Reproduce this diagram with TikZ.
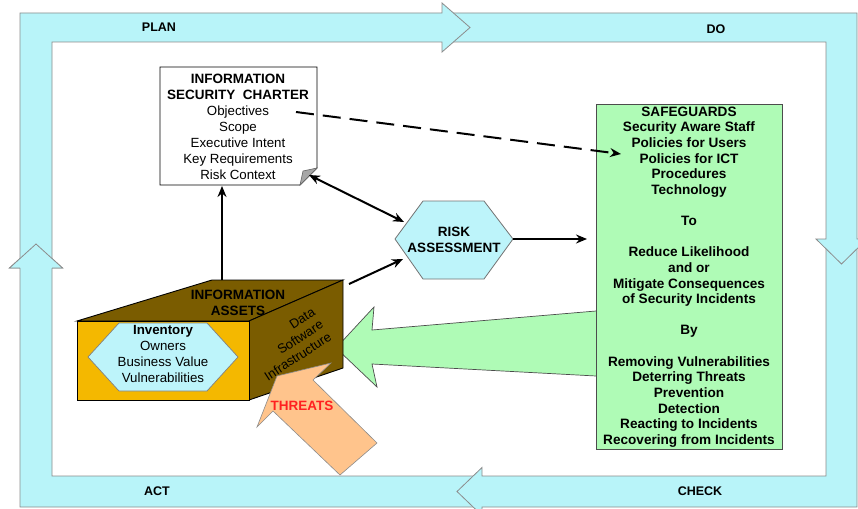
\documentclass[tikz,border=0pt]{standalone}
\usepackage{fontspec}
\setmainfont{Liberation Sans}
\usetikzlibrary{arrows.meta}
\definecolor{band}{HTML}{B8F4F9}
\definecolor{bandline}{HTML}{8C8C8C}
\definecolor{sgreen}{HTML}{AFFBB6}
\definecolor{gold}{HTML}{F4B800}
\definecolor{olive}{HTML}{7A5C00}
\definecolor{peach}{HTML}{FFC48C}
\definecolor{hexcyan}{HTML}{BDF4FA}
\definecolor{threatred}{HTML}{FF2020}
\begin{document}
\begin{tikzpicture}[x=1pt,y=-1pt,
  bandfill/.style={fill=band},
  bandedge/.style={draw=bandline,line width=0.8pt,line join=miter},
  lbl/.style={font=\fontsize{12.5}{14}\selectfont\bfseries,inner sep=0pt},
  txt/.style={align=center,inner sep=0pt},
  conn/.style={line width=2pt,-{Stealth[length=11pt,width=9pt]}},
  shapeedge/.style={draw=black,line width=0.9pt,line join=miter},
]
\useasboundingbox (0,0) rectangle (858,508);
\clip (0,0) rectangle (858,508);
\fill[white] (0,0) rectangle (858,508);

% ---- frame arrows ----
% ACT
\fill[bandfill] (482,476) -- (52,476) -- (52,268) -- (62.5,268) -- (36,244) -- (9.5,268) -- (20,268) -- (20,507) -- (482,507) -- cycle;
\draw[bandedge] (482,476) -- (52,476) -- (52,268) -- (62.5,268) -- (36,244) -- (9.5,268) -- (20,268) -- (20,507) -- (482,507);
% CHECK
\fill[bandfill] (826,239) -- (826,476) -- (482,476) -- (482,467.5) -- (457,491.5) -- (482,515.5) -- (482,507) -- (857,507) -- (857,239) -- cycle;
\draw[bandedge] (826,239) -- (826,476) -- (482,476) -- (482,467.5) -- (457,491.5) -- (482,515.5) -- (482,507) -- (857,507) -- (857,239);
% DO
\fill[bandfill] (442,13) -- (857,13) -- (857,239) -- (867,239) -- (841.5,264) -- (816,239) -- (826,239) -- (826,42) -- (442,42) -- cycle;
\draw[bandedge] (442,13) -- (857,13) -- (857,239) -- (867,239) -- (841.5,264) -- (816,239) -- (826,239) -- (826,42) -- (442,42);
% PLAN
\fill[bandfill] (20,268) -- (20,13) -- (442,13) -- (442,3) -- (470,27.5) -- (442,52) -- (442,42) -- (52,42) -- (52,268) -- cycle;
\draw[bandedge] (20,268) -- (20,13) -- (442,13) -- (442,3) -- (470,27.5) -- (442,52) -- (442,42) -- (52,42) -- (52,268);
% ACT head again on top
\fill[bandfill] (9.5,268) -- (36,244) -- (62.5,268) -- cycle;
\draw[bandedge] (20,268) -- (9.5,268) -- (36,244) -- (62.5,268) -- (52,268);

\node[lbl] (plan) at (159,27) {PLAN};
\node[lbl] (do) at (716,29) {DO};
\node[lbl] (check) at (700,491) {CHECK};
\node[lbl] (act) at (157,491) {ACT};

% ---- information security charter ----
\draw[shapeedge,fill=white] (160,67) -- (317,67) -- (317,168) -- (300,185) -- (160,185) -- cycle;
\draw[draw=black!60,fill=black!35,line width=0.6pt] (300,185) -- (317,168) -- (303,171) -- cycle;
\node[txt,font=\fontsize{13.3}{16}\selectfont] (charter) at (238,127)
  {{\fontsize{13.5}{16}\selectfont\bfseries INFORMATION}\\
   {\fontsize{13.5}{16}\selectfont\bfseries SECURITY\ \ CHARTER}\\
   Objectives\\ Scope\\ Executive Intent\\ Key Requirements\\ Risk Context};

% ---- safeguards ----
\fill[sgreen] (336,348) -- (374,307) -- (372,330) -- (596,311) -- (596,376) -- (372,364) -- (377,387) -- cycle;
\draw[draw=black!70,line width=0.7pt] (596,311) -- (372,330) -- (374,307) -- (336,348) -- (377,387) -- (372,364) -- (596,376);
\draw[draw=black!70,fill=sgreen,line width=0.8pt] (596,104) rectangle (782,449);
\node[txt,font=\fontsize{13.6}{15.62}\selectfont\bfseries] (safeguards) at (689,277)
  {SAFEGUARDS\\ Security Aware Staff\\ Policies for Users\\ Policies for ICT\\ Procedures\\ Technology\\[15.62pt]
   To\\[15.62pt]
   Reduce Likelihood\\ and or\\ Mitigate Consequences\\ of Security Incidents\\[15.62pt]
   By\\[15.62pt]
   Removing Vulnerabilities\\ Deterring Threats\\ Prevention\\ Detection\\ Reacting to Incidents\\ Recovering from Incidents};

% ---- risk assessment ----
\draw[draw=black!55,fill=hexcyan,line width=0.8pt] (395,239) -- (423,201) -- (484,201) -- (513,239) -- (484,279) -- (423,279) -- cycle;
\node[txt,font=\fontsize{13.5}{15.5}\selectfont\bfseries] (risk) at (454,240) {RISK\\ ASSESSMENT};

% ---- information assets ----
\draw[shapeedge,fill=olive] (77,321) -- (249,321) -- (343,280) -- (212,280) -- cycle;
\draw[shapeedge,fill=olive] (249,321) -- (343,280) -- (343,368) -- (249,400) -- cycle;
\draw[shapeedge,fill=gold] (77,321) rectangle (249,400);
\draw[draw=black!50,fill=hexcyan,line width=0.7pt] (88,357) -- (119,323) -- (207,323) -- (238,357) -- (207,391) -- (119,391) -- cycle;
\node[txt,font=\fontsize{13.5}{16}\selectfont\bfseries] (assets) at (238,303) {INFORMATION\\ ASSETS};
\node[txt,font=\fontsize{13.3}{16}\selectfont] (inventory) at (163,354)
  {{\bfseries Inventory}\\ Owners\\ Business Value\\ Vulnerabilities};
\node[align=right,inner sep=0pt,rotate=33,anchor=east,font=\fontsize{13}{15}\selectfont] (sidetext) at (322,323)
  {Data\\ Software\\ Infrastructure};

% ---- threats ----
\draw[draw=black!45,fill=peach,line width=0.6pt] (277,376) -- (331,363) -- (313,380) -- (377,443) -- (340,475) -- (273,411) -- (257,427) -- cycle;
\node[inner sep=0pt,font=\fontsize{13.5}{15}\selectfont\bfseries,text=threatred] (threats) at (302,406) {THREATS};

% ---- connectors ----
\coordinate (chDash) at (296,112);
\coordinate (sgDash) at (621,154);
\coordinate (chCorner) at (309,175);
\coordinate (riskUL) at (404,222);
\coordinate (assetsTop) at (349,284);
\coordinate (riskLL) at (403,259);
\coordinate (riskR) at (513,239);
\coordinate (sgIn) at (587,239);
\coordinate (assetsUp) at (222,280);
\coordinate (chBottom) at (222,186);
\draw[conn,dash pattern=on 18pt off 9pt] (chDash) -- (sgDash);
\draw[line width=2pt,{Stealth[length=11pt,width=9pt]}-{Stealth[length=11pt,width=9pt]}] (chCorner) -- (riskUL);
\draw[conn] (assetsTop) -- (riskLL);
\draw[conn] (riskR) -- (sgIn);
\draw[conn] (assetsUp) -- (chBottom);
\end{tikzpicture}
\end{document}
